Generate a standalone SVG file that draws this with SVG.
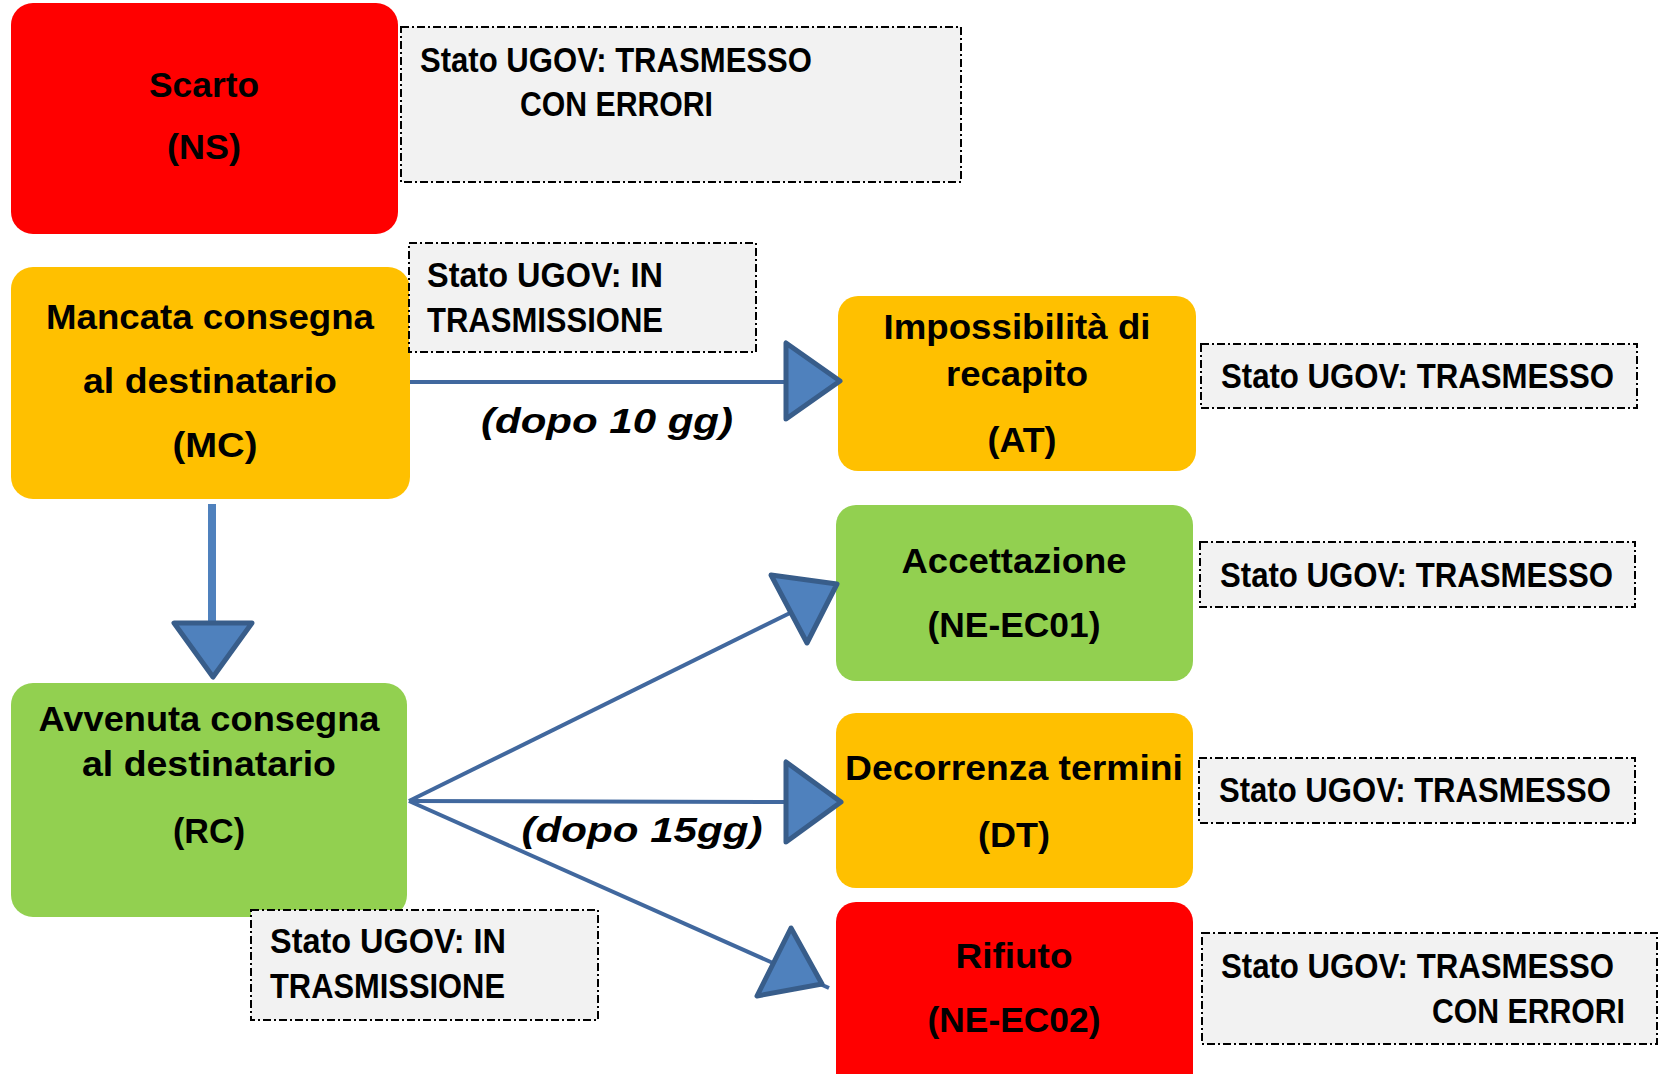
<svg xmlns="http://www.w3.org/2000/svg" width="1665" height="1074" viewBox="0 0 1665 1074">
<style>
.t{font-family:"Liberation Sans",Arial,sans-serif;font-weight:bold;font-size:35px;fill:#000}
.m{text-anchor:middle}
.i{font-style:italic}
.red{fill:#FF0000}
.org{fill:#FFC000}
.grn{fill:#92D050}
.note{fill:#F2F2F2;stroke:#000;stroke-width:2;stroke-dasharray:8 3 2 3}
.ln{stroke:#41689E;stroke-width:4;fill:none}
.head{fill:#4F81BD;stroke:#385D8A;stroke-width:5;stroke-linejoin:round}
</style>
<rect width="1665" height="1074" fill="#fff"/>
<g id="NS">
<rect class="red" x="11" y="3" width="387" height="231" rx="22"/>
<text class="t m" x="204" y="97" textLength="110" lengthAdjust="spacingAndGlyphs">Scarto</text>
<text class="t m" x="204" y="159" textLength="74" lengthAdjust="spacingAndGlyphs">(NS)</text>
</g>
<g id="note-NS">
<rect class="note" x="401" y="27" width="560" height="155"/>
<text class="t" x="420" y="72" textLength="392" lengthAdjust="spacingAndGlyphs">Stato UGOV: TRASMESSO</text>
<text class="t" x="520" y="116" textLength="193" lengthAdjust="spacingAndGlyphs">CON ERRORI</text>
</g>
<g id="MC">
<rect class="org" x="11" y="267" width="399" height="232" rx="22"/>
<text class="t m" x="210" y="329" textLength="328" lengthAdjust="spacingAndGlyphs">Mancata consegna</text>
<text class="t m" x="210" y="393" textLength="254" lengthAdjust="spacingAndGlyphs">al destinatario</text>
<text class="t m" x="215" y="457" textLength="85" lengthAdjust="spacingAndGlyphs">(MC)</text>
</g>
<g id="note-MC">
<rect class="note" x="409" y="243" width="347" height="109"/>
<text class="t" x="427" y="287" textLength="236" lengthAdjust="spacingAndGlyphs">Stato UGOV: IN</text>
<text class="t" x="427" y="332" textLength="236" lengthAdjust="spacingAndGlyphs">TRASMISSIONE</text>
</g>
<g id="AT">
<rect class="org" x="838" y="296" width="358" height="175" rx="20"/>
<text class="t m" x="1017" y="339" textLength="267" lengthAdjust="spacingAndGlyphs">Impossibilità di</text>
<text class="t m" x="1017" y="386" textLength="142" lengthAdjust="spacingAndGlyphs">recapito</text>
<text class="t m" x="1022" y="452" textLength="69" lengthAdjust="spacingAndGlyphs">(AT)</text>
</g>
<g id="note-AT">
<rect class="note" x="1201" y="344" width="436" height="64"/>
<text class="t" x="1221" y="388" textLength="393" lengthAdjust="spacingAndGlyphs">Stato UGOV: TRASMESSO</text>
</g>
<g id="NE-EC01">
<rect class="grn" x="836" y="505" width="357" height="176" rx="20"/>
<text class="t m" x="1014" y="573" textLength="225" lengthAdjust="spacingAndGlyphs">Accettazione</text>
<text class="t m" x="1014" y="637" textLength="173" lengthAdjust="spacingAndGlyphs">(NE-EC01)</text>
</g>
<g id="note-NE-EC01">
<rect class="note" x="1200" y="542" width="435" height="65"/>
<text class="t" x="1220" y="587" textLength="393" lengthAdjust="spacingAndGlyphs">Stato UGOV: TRASMESSO</text>
</g>
<g id="DT">
<rect class="org" x="836" y="713" width="357" height="175" rx="20"/>
<text class="t m" x="1014" y="780" textLength="338" lengthAdjust="spacingAndGlyphs">Decorrenza termini</text>
<text class="t m" x="1014" y="847" textLength="72" lengthAdjust="spacingAndGlyphs">(DT)</text>
</g>
<g id="note-DT">
<rect class="note" x="1199" y="758" width="436" height="65"/>
<text class="t" x="1219" y="802" textLength="392" lengthAdjust="spacingAndGlyphs">Stato UGOV: TRASMESSO</text>
</g>
<g id="RC">
<rect class="grn" x="11" y="683" width="396" height="234" rx="22"/>
<text class="t m" x="209" y="731" textLength="341" lengthAdjust="spacingAndGlyphs">Avvenuta consegna</text>
<text class="t m" x="209" y="776" textLength="254" lengthAdjust="spacingAndGlyphs">al destinatario</text>
<text class="t m" x="209" y="843" textLength="72" lengthAdjust="spacingAndGlyphs">(RC)</text>
</g>
<g id="note-RC">
<rect class="note" x="251" y="910" width="347" height="110"/>
<text class="t" x="270" y="953" textLength="236" lengthAdjust="spacingAndGlyphs">Stato UGOV: IN</text>
<text class="t" x="270" y="998" textLength="235" lengthAdjust="spacingAndGlyphs">TRASMISSIONE</text>
</g>
<g id="NE-EC02">
<rect class="red" x="836" y="902" width="357" height="200" rx="20"/>
<text class="t m" x="1014" y="968" textLength="117" lengthAdjust="spacingAndGlyphs">Rifiuto</text>
<text class="t m" x="1014" y="1032" textLength="173" lengthAdjust="spacingAndGlyphs">(NE-EC02)</text>
</g>
<g id="note-NE-EC02">
<rect class="note" x="1202" y="933" width="455" height="111"/>
<text class="t" x="1221" y="978" textLength="393" lengthAdjust="spacingAndGlyphs">Stato UGOV: TRASMESSO</text>
<text class="t" x="1432" y="1023" textLength="193" lengthAdjust="spacingAndGlyphs">CON ERRORI</text>
</g>
<g id="connectors">
<line class="ln" x1="410" y1="382" x2="788" y2="382"/>
<polygon class="head" points="786,343 786,419 840,381"/>
<line x1="212" y1="504" x2="212" y2="621" stroke="#4F81BD" stroke-width="8"/>
<polygon class="head" points="174,623 252,623 213,677"/>
<line class="ln" x1="409" y1="801" x2="790" y2="613"/>
<polygon class="head" points="771,575 807,643 837,584"/>
<line class="ln" x1="409" y1="801" x2="788" y2="802"/>
<polygon class="head" points="786,762 786,842 841,802"/>
<line class="ln" x1="409" y1="801" x2="829" y2="988"/>
<polygon class="head" points="791,928 757,996 822,984"/>
<text class="t m i" x="607" y="433" textLength="252" lengthAdjust="spacingAndGlyphs">(dopo 10 gg)</text>
<text class="t m i" x="642" y="842" textLength="241" lengthAdjust="spacingAndGlyphs">(dopo 15gg)</text>
</g>
</svg>
